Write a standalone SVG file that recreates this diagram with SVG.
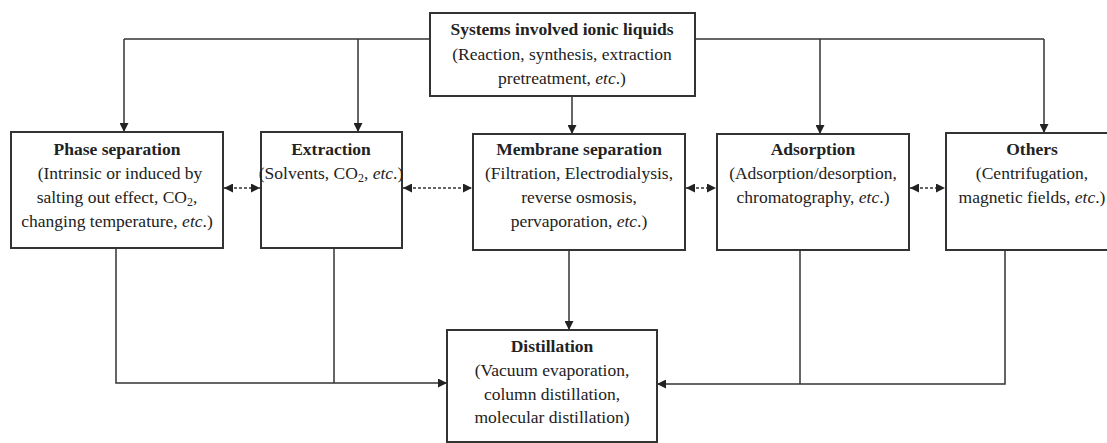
<svg xmlns="http://www.w3.org/2000/svg" width="1107" height="443" viewBox="0 0 1107 443">
<style>
.box{fill:#fff;stroke:#333;stroke-width:2}
.ln{fill:none;stroke:#333;stroke-width:1.5}
.dot{fill:none;stroke:#333;stroke-width:1.3;stroke-dasharray:3 2}
text{font-family:"Liberation Serif","Times New Roman",serif;font-size:17.5px;fill:#222;text-anchor:middle}
.b{font-weight:bold}
.i{font-style:italic}
.s{font-size:12px}
</style>
<defs>
<marker id="ah" viewBox="0 0 10 10" refX="10" refY="5" markerWidth="9" markerHeight="9" markerUnits="userSpaceOnUse" orient="auto-start-reverse">
<path d="M0,0 L10,5 L0,10 z" fill="#222"/>
</marker>
</defs>
<rect width="1107" height="443" fill="#fff"/>
<g id="connectors">
<path class="ln" d="M124,39 H1044"/>
<path class="ln" d="M124,39 V132" marker-end="url(#ah)"/>
<path class="ln" d="M358,39 V132" marker-end="url(#ah)"/>
<path class="ln" d="M572,96 V134" marker-end="url(#ah)"/>
<path class="ln" d="M820,39 V134" marker-end="url(#ah)"/>
<path class="ln" d="M1044,39 V133" marker-end="url(#ah)"/>
<path class="dot" d="M224,188 H260" marker-start="url(#ah)" marker-end="url(#ah)"/>
<path class="dot" d="M403,188 H472" marker-start="url(#ah)" marker-end="url(#ah)"/>
<path class="dot" d="M686,188 H716" marker-start="url(#ah)" marker-end="url(#ah)"/>
<path class="dot" d="M910,188 H945" marker-start="url(#ah)" marker-end="url(#ah)"/>
<path class="ln" d="M569,250 V330" marker-end="url(#ah)"/>
<path class="ln" d="M116,248 V383 H447" marker-end="url(#ah)"/>
<path class="ln" d="M334,248 V383"/>
<path class="ln" d="M1005,250 V384 H657" marker-end="url(#ah)"/>
<path class="ln" d="M800,250 V384"/>
</g>
<g id="top">
<rect class="box" x="430" y="13" width="265" height="83"/>
<text class="b" x="562" y="35">Systems involved ionic liquids</text>
<text x="562" y="60">(Reaction, synthesis, extraction</text>
<text x="562" y="84">pretreatment, <tspan class="i">etc</tspan>.)</text>
</g>
<g id="phase">
<rect class="box" x="11" y="132" width="212" height="116"/>
<text class="b" x="117" y="155">Phase separation</text>
<text x="120" y="179">(Intrinsic or induced by</text>
<text x="117" y="203">salting out effect, CO<tspan class="s" dy="3">2</tspan><tspan dy="-3">,</tspan></text>
<text x="117" y="227">changing temperature, <tspan class="i">etc</tspan>.)</text>
</g>
<g id="extraction">
<rect class="box" x="261" y="132" width="141" height="116"/>
<text class="b" x="331" y="155">Extraction</text>
<text x="331" y="179">(Solvents, CO<tspan class="s" dy="3">2</tspan><tspan dy="-3">, </tspan><tspan class="i">etc</tspan>.)</text>
</g>
<g id="membrane">
<rect class="box" x="473" y="134" width="212" height="116"/>
<text class="b" x="579" y="155">Membrane separation</text>
<text x="579" y="179">(Filtration, Electrodialysis,</text>
<text x="579" y="203">reverse osmosis,</text>
<text x="579" y="227">pervaporation, <tspan class="i">etc</tspan>.)</text>
</g>
<g id="adsorption">
<rect class="box" x="717" y="134" width="192" height="116"/>
<text class="b" x="813" y="155">Adsorption</text>
<text x="813" y="179">(Adsorption/desorption,</text>
<text x="813" y="203">chromatography, <tspan class="i">etc</tspan>.)</text>
</g>
<g id="others">
<rect class="box" x="946" y="133" width="165" height="117"/>
<text class="b" x="1032" y="155">Others</text>
<text x="1032" y="179">(Centrifugation,</text>
<text x="1032" y="203">magnetic fields, <tspan class="i">etc</tspan>.)</text>
</g>
<g id="distillation">
<rect class="box" x="447" y="330" width="210" height="112"/>
<text class="b" x="552" y="352">Distillation</text>
<text x="552" y="376">(Vacuum evaporation,</text>
<text x="552" y="400">column distillation,</text>
<text x="552" y="423">molecular distillation)</text>
</g>
</svg>
